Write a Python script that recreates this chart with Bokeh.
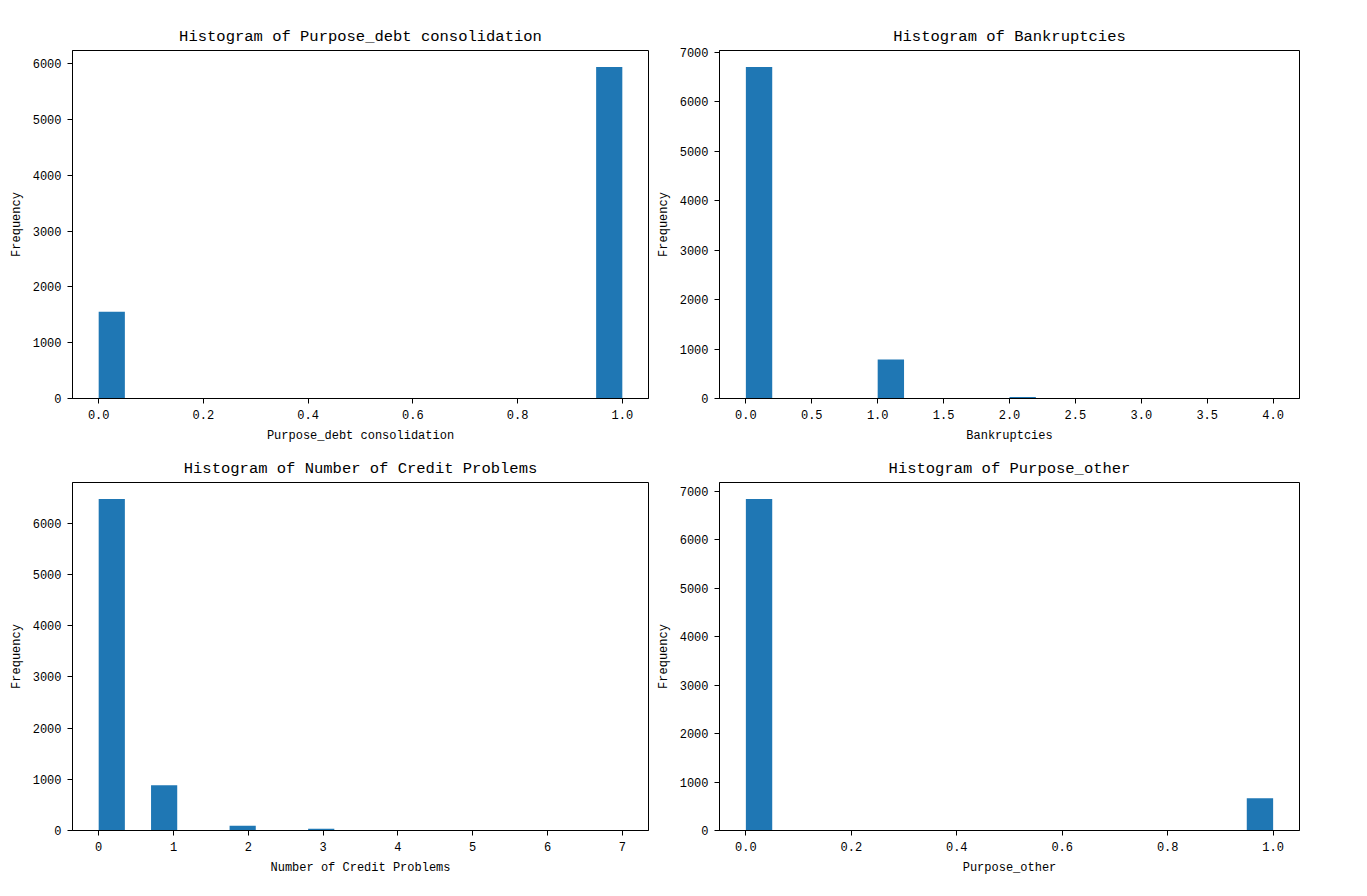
import numpy as np
from bokeh.plotting import figure
from bokeh.layouts import gridplot
from bokeh.models import Range1d, FixedTicker, NumeralTickFormatter
from bokeh.embed import file_html
from bokeh.resources import INLINE

# ---- data ----
debt_values = [0, 1]
debt_counts = [1556, 5944]

bankr_values = [0, 1, 2, 3, 4]
bankr_counts = [6700, 786, 31, 7, 2]

credit_values = [0, 1, 2, 3, 4, 5, 6, 7]
credit_counts = [6469, 882, 93, 35, 9, 7, 4, 1]

other_values = [0, 1]
other_counts = [6835, 665]

debt_xticks = [0.0, 0.2, 0.4, 0.6, 0.8, 1.0]
bankr_xticks = [0.0, 0.5, 1.0, 1.5, 2.0, 2.5, 3.0, 3.5, 4.0]
credit_xticks = [0, 1, 2, 3, 4, 5, 6, 7]
other_xticks = [0.0, 0.2, 0.4, 0.6, 0.8, 1.0]

yticks_6000 = [0, 1000, 2000, 3000, 4000, 5000, 6000]
yticks_7000 = [0, 1000, 2000, 3000, 4000, 5000, 6000, 7000]

FONT = "Liberation Mono"
BAR = "#1f77b4"


def make_hist(title, xlabel, values, counts, xticks, yticks, xfmt,
              width, height, bl, br, bt, bb):
    lo, hi = min(values), max(values)
    edges = np.linspace(lo, hi, 21)
    hist, _ = np.histogram(values, bins=edges, weights=counts)
    pad = 0.05 * (hi - lo)
    p = figure(width=width, height=height, output_backend="svg",
               toolbar_location=None, tools="",
               x_range=Range1d(lo - pad, hi + pad),
               y_range=Range1d(0, 1.05 * hist.max()),
               min_border_left=bl, min_border_right=br,
               min_border_top=bt, min_border_bottom=bb)
    p.quad(left=edges[:-1], right=edges[1:], top=hist, bottom=0,
           fill_color=BAR, line_color=None)
    p.title.text = title
    p.title.align = "center"
    p.title.text_font = FONT
    p.title.text_font_size = "15.5px"
    p.title.text_font_style = "normal"
    p.title.text_color = "black"
    p.title.standoff = 9
    p.xgrid.visible = False
    p.ygrid.visible = False
    p.outline_line_color = "black"
    p.outline_line_alpha = 1
    p.outline_line_width = 1
    p.background_fill_color = "white"
    p.border_fill_color = "white"
    for ax in (p.xaxis[0], p.yaxis[0]):
        ax.major_label_text_font = FONT
        ax.major_label_text_font_size = "12px"
        ax.major_label_text_color = "black"
        ax.axis_label_text_font = FONT
        ax.axis_label_text_font_size = "12px"
        ax.axis_label_text_font_style = "normal"
        ax.axis_label_text_color = "black"
        ax.axis_line_color = "black"
        ax.major_tick_line_color = "black"
        ax.major_tick_out = 5
        ax.major_tick_in = 0
        ax.minor_tick_line_color = None
        ax.major_label_standoff = 6
        ax.axis_label_standoff = 7
    p.yaxis[0].axis_label_standoff = 6
    p.xaxis[0].ticker = FixedTicker(ticks=xticks)
    p.xaxis[0].formatter = NumeralTickFormatter(format=xfmt)
    p.yaxis[0].ticker = FixedTicker(ticks=yticks)
    p.yaxis[0].formatter = NumeralTickFormatter(format="0")
    p.xaxis[0].axis_label = xlabel
    p.yaxis[0].axis_label = "Frequency"
    return p


p1 = make_hist("Histogram of Purpose_debt consolidation", "Purpose_debt consolidation",
               debt_values, debt_counts, debt_xticks, yticks_6000, "0.0",
               653, 445, 72, 5, 50, 46)
p2 = make_hist("Histogram of Bankruptcies", "Bankruptcies",
               bankr_values, bankr_counts, bankr_xticks, yticks_7000, "0.0",
               656, 445, 64, 10, 50, 46)
p3 = make_hist("Histogram of Number of Credit Problems", "Number of Credit Problems",
               credit_values, credit_counts, credit_xticks, yticks_6000, "0",
               653, 435, 72, 5, 37, 50)
p4 = make_hist("Histogram of Purpose_other", "Purpose_other",
               other_values, other_counts, other_xticks, yticks_7000, "0.0",
               656, 435, 64, 10, 37, 50)

grid = gridplot([[p1, p2], [p3, p4]], toolbar_location=None)

open("out.html", "w").write(file_html(grid, INLINE))
